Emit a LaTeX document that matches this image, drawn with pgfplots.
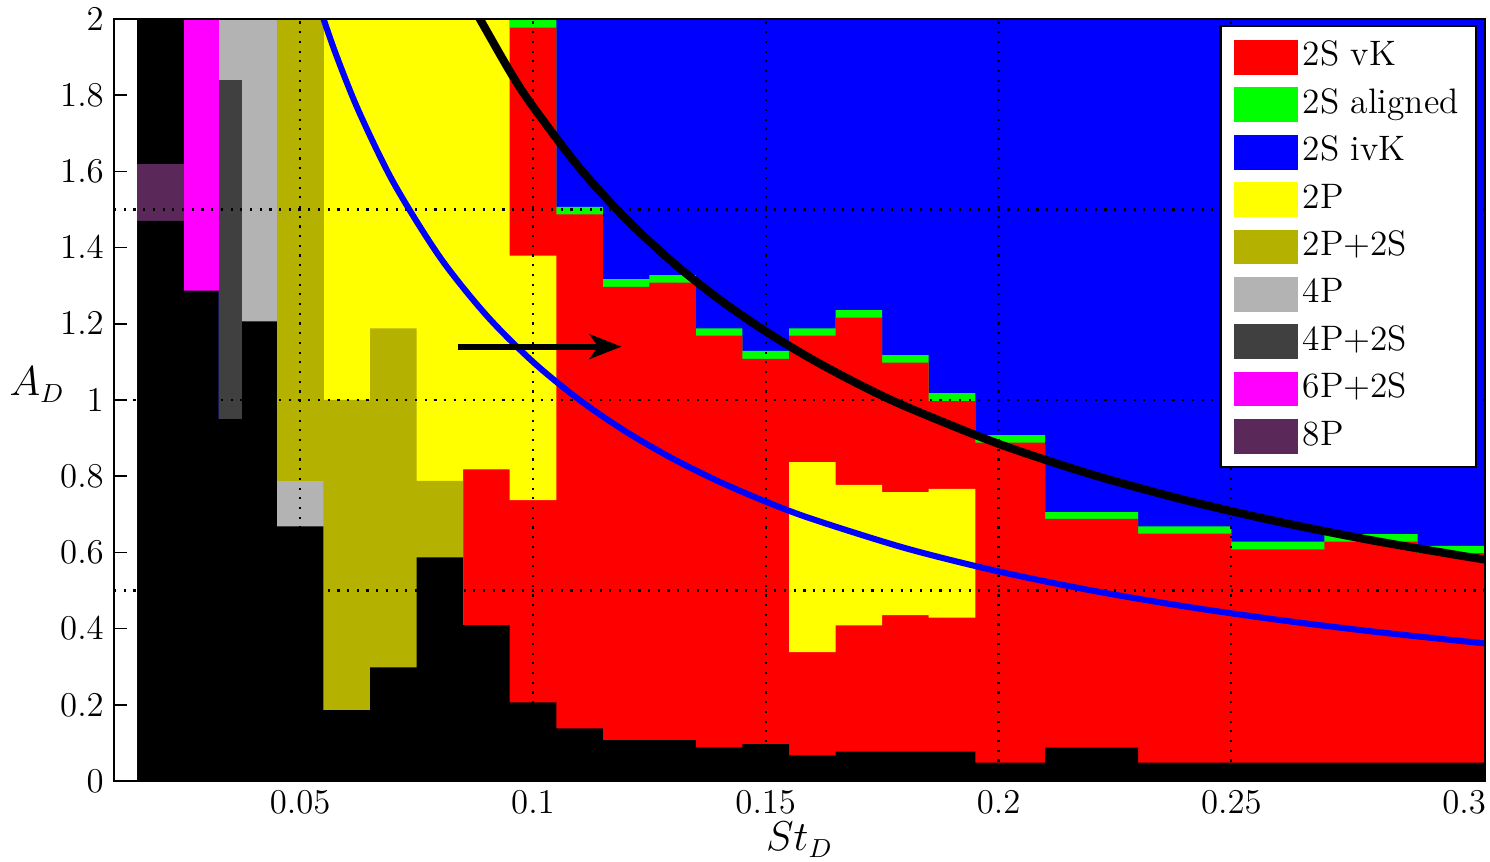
\documentclass[border=0pt]{standalone}
\usepackage{pgfplots}
\pgfplotsset{compat=1.18}
\usetikzlibrary{arrows.meta}
\definecolor{cRed}{RGB}{255,0,0}
\definecolor{cGreen}{RGB}{0,255,0}
\definecolor{cBlue}{RGB}{0,0,255}
\definecolor{cYellow}{RGB}{255,255,0}
\definecolor{cOlive}{RGB}{181,177,0}
\definecolor{cLGrey}{RGB}{179,179,179}
\definecolor{cDGrey}{RGB}{64,64,64}
\definecolor{cMag}{RGB}{255,0,255}
\definecolor{cPurp}{RGB}{90,41,90}
\begin{document}
\begin{tikzpicture}
\begin{axis}[
  scale only axis, width=473pt, height=262.9pt,
  xmin=0.01, xmax=0.3045, ymin=0, ymax=2,
  xtick={0.05,0.1,0.15,0.2,0.25,0.3},
  ytick={0,0.2,0.4,0.6,0.8,1,1.2,1.4,1.6,1.8,2},
  scaled x ticks=false, scaled y ticks=false,
  x tick label style={/pgf/number format/fixed, /pgf/number format/precision=2, font=\fontsize{11.7}{14}\selectfont},
  y tick label style={/pgf/number format/fixed, /pgf/number format/precision=1, font=\fontsize{11.7}{14}\selectfont},
  tick align=inside, xtick pos=left, ytick pos=left,
  major tick length=4.5pt,
  axis on top,
  axis line style={line width=0.6pt},
  every tick/.style={black, line width=0.6pt},
  xlabel={$St_D$}, ylabel={$A_D$},
  every axis x label/.style={at={(axis description cs:0.5,-0.077)},anchor=center,font=\fontsize{13.5}{16}\selectfont},
  every axis y label/.style={at={(axis description cs:-0.056,0.52)},anchor=center,font=\fontsize{13.5}{16}\selectfont},
  legend style={at={(axis description cs:0.9942,0.9915)}, anchor=north east, draw=black, line width=0.7pt, fill=white,
    font=\fontsize{12.2}{14.5}\selectfont, inner xsep=4.5pt, inner ysep=4pt, row sep=3.05pt,
    nodes={inner xsep=1.5pt, inner ysep=1pt, text height=8.6pt, text depth=2.7pt}},
  legend image code/.code={\fill[#1] (0pt,-6pt) rectangle (22.4pt,6pt);},
  legend cell align=left,
]
% legend entries
\addlegendimage{fill=cRed, draw=none}\addlegendentry{2S vK}
\addlegendimage{fill=cGreen, draw=none}\addlegendentry{2S aligned}
\addlegendimage{fill=cBlue, draw=none}\addlegendentry{2S ivK}
\addlegendimage{fill=cYellow, draw=none}\addlegendentry{2P}
\addlegendimage{fill=cOlive, draw=none}\addlegendentry{2P+2S}
\addlegendimage{fill=cLGrey, draw=none}\addlegendentry{4P}
\addlegendimage{fill=cDGrey, draw=none}\addlegendentry{4P+2S}
\addlegendimage{fill=cMag, draw=none}\addlegendentry{6P+2S}
\addlegendimage{fill=cPurp, draw=none}\addlegendentry{8P}

% 2S ivK background
\addplot[fill=cBlue, draw=none, forget plot] coordinates {(0.015,0) (0.015,2) (0.31,2) (0.31,0)} --cycle;
% 2S aligned
\addplot[fill=cGreen, draw=none, forget plot] coordinates {
(0.095,0) (0.095,2) (0.105,2) (0.105,1.507) (0.115,1.507) (0.115,1.317) (0.125,1.317) (0.125,1.328)
(0.135,1.328) (0.135,1.188) (0.145,1.188) (0.145,1.129) (0.155,1.129) (0.155,1.188) (0.165,1.188)
(0.165,1.236) (0.175,1.236) (0.175,1.118) (0.185,1.118) (0.185,1.018) (0.195,1.018) (0.195,0.908)
(0.21,0.908) (0.21,0.706) (0.23,0.706) (0.23,0.668) (0.25,0.668) (0.25,0.628) (0.27,0.628)
(0.27,0.648) (0.29,0.648) (0.29,0.617) (0.31,0.617) (0.31,0)} --cycle;
% 2S vK
\addplot[fill=cRed, draw=none, forget plot] coordinates {
(0.085,0) (0.085,0.818) (0.095,0.818) (0.095,1.977) (0.105,1.977) (0.105,1.487) (0.115,1.487)
(0.115,1.297) (0.125,1.297) (0.125,1.308) (0.135,1.308) (0.135,1.169) (0.145,1.169) (0.145,1.108)
(0.155,1.108) (0.155,1.169) (0.165,1.169) (0.165,1.216) (0.175,1.216) (0.175,1.098) (0.185,1.098)
(0.185,0.997) (0.195,0.997) (0.195,0.888) (0.21,0.888) (0.21,0.688) (0.23,0.688) (0.23,0.649)
(0.25,0.649) (0.25,0.608) (0.27,0.608) (0.27,0.628) (0.29,0.628) (0.29,0.598) (0.31,0.598) (0.31,0)} --cycle;
% 2P
\addplot[fill=cYellow, draw=none, forget plot] coordinates {
(0.055,0) (0.055,2) (0.095,2) (0.095,1.379) (0.105,1.379) (0.105,0.7375) (0.095,0.7375)
(0.095,0.818) (0.085,0.818) (0.085,0)} --cycle;
\addplot[fill=cYellow, draw=none, forget plot] coordinates {
(0.155,0.338) (0.155,0.837) (0.165,0.837) (0.165,0.777) (0.175,0.777) (0.175,0.758) (0.185,0.758)
(0.185,0.767) (0.195,0.767) (0.195,0.4287) (0.185,0.4287) (0.185,0.4357) (0.175,0.4357)
(0.175,0.4086) (0.165,0.4086) (0.165,0.338)} --cycle;
% 2P+2S
\addplot[fill=cOlive, draw=none, forget plot] coordinates {
(0.045,0) (0.045,2) (0.055,2) (0.055,1.0) (0.065,1.0) (0.065,1.188) (0.075,1.188) (0.075,0.788)
(0.085,0.788) (0.085,0)} --cycle;
% 4P
\addplot[fill=cLGrey, draw=none, forget plot] coordinates {
(0.0325,0) (0.0325,2) (0.045,2) (0.045,0.787) (0.055,0.787) (0.055,0)} --cycle;
% 4P+2S
\addplot[fill=cDGrey, draw=none, forget plot] coordinates {
(0.0325,0.95) (0.0325,1.841) (0.0375,1.841) (0.0375,0.95)} --cycle;
% 6P+2S
\addplot[fill=cMag, draw=none, forget plot] coordinates {
(0.025,1.287) (0.025,2) (0.0325,2) (0.0325,1.287)} --cycle;
% 8P
\addplot[fill=cPurp, draw=none, forget plot] coordinates {
(0.015,1.47) (0.015,1.619) (0.025,1.619) (0.025,1.47)} --cycle;
% black region
\addplot[fill=black, draw=none, forget plot] coordinates {
(0.015,1.619) (0.015,2) (0.025,2) (0.025,1.619)} --cycle;
\addplot[fill=black, draw=none, forget plot] coordinates {
(0.015,0) (0.015,1.47) (0.025,1.47) (0.025,1.287) (0.0325,1.287) (0.0325,0.95) (0.0375,0.95)
(0.0375,1.2066) (0.045,1.2066) (0.045,0.668) (0.055,0.668) (0.055,0.186) (0.065,0.186)
(0.065,0.298) (0.075,0.298) (0.075,0.587) (0.085,0.587) (0.085,0.409) (0.095,0.409)
(0.095,0.2065) (0.105,0.2065) (0.105,0.138) (0.115,0.138) (0.115,0.1076) (0.135,0.1076)
(0.135,0.088) (0.145,0.088) (0.145,0.097) (0.155,0.097) (0.155,0.0674) (0.165,0.0674)
(0.165,0.077) (0.195,0.077) (0.195,0.048) (0.21,0.048) (0.21,0.0875) (0.23,0.0875)
(0.23,0.048) (0.31,0.048) (0.31,0)} --cycle;

% dotted grid lines
\pgfplotsset{dotgrid/.style={black, line width=0.75pt, dash pattern=on 0.75pt off 2.6pt, forget plot}}
\addplot[dotgrid] coordinates {(0.05,0) (0.05,2)};
\addplot[dotgrid] coordinates {(0.1,0) (0.1,2)};
\addplot[dotgrid] coordinates {(0.15,0) (0.15,2)};
\addplot[dotgrid] coordinates {(0.2,0) (0.2,2)};
\addplot[dotgrid] coordinates {(0.25,0) (0.25,2)};
\addplot[dotgrid] coordinates {(0.01,0.5) (0.3045,0.5)};
\addplot[dotgrid] coordinates {(0.01,1) (0.3045,1)};
\addplot[dotgrid] coordinates {(0.01,1.5) (0.3045,1.5)};

% curves
\addplot[cBlue, line width=2.1pt, smooth, forget plot] coordinates {
(0.054,2.037) (0.0575,1.913) (0.0625,1.760) (0.07,1.5714) (0.08,1.375) (0.09,1.2222) (0.1,1.1)
(0.11,1.0) (0.12,0.9167) (0.13,0.8462) (0.14,0.7857) (0.15,0.7333) (0.16,0.6875) (0.18,0.6111)
(0.2,0.55) (0.22,0.5) (0.24,0.4583) (0.26,0.4231) (0.28,0.3929) (0.3,0.3667) (0.31,0.3548)};
\addplot[black, line width=2.8pt, smooth, forget plot] coordinates {
(0.087,2.0345) (0.095,1.8632) (0.1,1.77) (0.11,1.6091) (0.12,1.475) (0.13,1.3615) (0.14,1.2643)
(0.15,1.18) (0.16,1.1063) (0.17,1.0412) (0.18,0.9833) (0.2,0.885) (0.22,0.8045) (0.24,0.7375)
(0.26,0.6808) (0.28,0.6321) (0.3,0.59) (0.31,0.571)};
% arrow
\addplot[black, line width=2.1pt, -{Stealth[length=11pt,width=8.5pt,inset=3pt]}, forget plot]
  coordinates {(0.0838,1.14) (0.119,1.14)};
\end{axis}
\pgfresetboundingbox
\path[use as bounding box] ([xshift=-39.33pt,yshift=-27.6pt]current axis.south west)
  rectangle ([xshift=1.72pt,yshift=6.55pt]current axis.north east);
\end{tikzpicture}
\end{document}
